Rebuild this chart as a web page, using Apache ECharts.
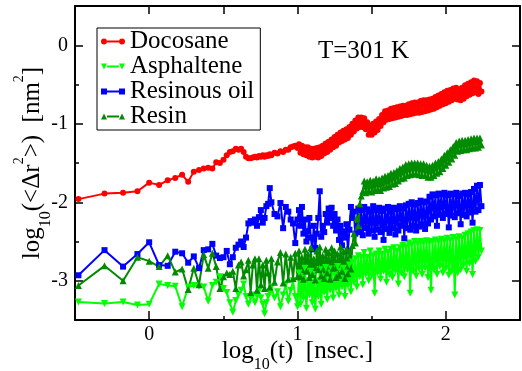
<!DOCTYPE html>
<html><head><meta charset="utf-8">
<script src="https://cdn.jsdelivr.net/npm/echarts@6/dist/echarts.min.js"></script>
<style>html,body{margin:0;padding:0;background:#fff}#c{width:522px;height:371px}</style>
</head><body><div id="c"></div>
<script>
// shared sampling times, log10(t / ns)
const logT = [
-0.477,-0.301,-0.176,-0.079,0,0.067,0.125,0.176,0.222,0.263,
0.301,0.336,0.368,0.398,0.426,0.452,0.477,0.501,0.523,0.544,
0.564,0.584,0.602,0.620,0.637,0.653,0.669,0.684,0.699,0.713,
0.727,0.740,0.753,0.766,0.778,0.790,0.802,0.813,0.824,
0.845,0.865,0.885,0.903,0.921,0.938,0.954,0.970,0.985,1.000,
1.01,1.02,1.03,1.04,1.05,1.06,1.07,1.08,1.09,1.10,
1.11,1.12,1.13,1.14,1.15,1.16,1.17,1.18,1.19,1.20,
1.21,1.22,1.23,1.24,1.25,1.26,1.27,1.28,1.29,1.30,
1.31,1.32,1.33,1.34,1.35,1.36,1.37,1.38,1.39,1.40,
1.41,1.42,1.43,1.44,1.45,1.46,1.47,1.48,1.49,1.50,
1.51,1.52,1.53,1.54,1.55,1.56,1.57,1.58,1.59,1.60,
1.61,1.62,1.63,1.64,1.65,1.66,1.67,1.68,1.69,1.70,
1.71,1.72,1.73,1.74,1.75,1.76,1.77,1.78,1.79,1.80,
1.81,1.82,1.83,1.84,1.85,1.86,1.87,1.88,1.89,1.90,
1.91,1.92,1.93,1.94,1.95,1.96,1.97,1.98,1.99,2.00,
2.01,2.02,2.03,2.04,2.05,2.06,2.07,2.08,2.09,2.10,
2.11,2.12,2.13,2.14,2.15,2.16,2.17,2.18,2.19,2.20,
2.21,2.22,2.23,2.24
];
const docosane = [
-1.96,-1.89,-1.88,-1.86,-1.75,-1.78,-1.72,-1.69,-1.65,-1.74,
-1.61,-1.59,-1.57,-1.56,-1.57,-1.49,-1.50,-1.46,-1.40,-1.36,
-1.35,-1.32,-1.33,-1.32,-1.36,-1.42,-1.44,-1.44,-1.43,-1.42,
-1.43,-1.41,-1.42,-1.40,-1.42,-1.40,-1.41,-1.39,-1.40,
-1.37,-1.38,-1.35,-1.36,-1.33,-1.33,-1.30,-1.29,-1.28,-1.31,
-1.26,-1.37,-1.28,-1.39,-1.30,-1.40,-1.30,-1.42,-1.32,-1.43,
-1.32,-1.42,-1.31,-1.43,-1.30,-1.41,-1.28,-1.38,-1.25,-1.36,
-1.23,-1.33,-1.20,-1.30,-1.17,-1.28,-1.14,-1.24,-1.11,-1.22,
-1.09,-1.20,-1.07,-1.18,-1.04,-1.14,-1.00,-1.10,-0.96,-1.06,
-0.92,-1.04,-0.92,-1.04,-0.93,-1.07,-0.98,-1.14,-1.03,-1.14,
-1.00,-1.11,-0.97,-1.08,-0.94,-1.03,-0.89,-0.98,-0.84,-0.95,
-0.83,-0.94,-0.81,-0.93,-0.80,-0.92,-0.79,-0.91,-0.78,-0.90,
-0.77,-0.89,-0.77,-0.89,-0.75,-0.88,-0.74,-0.87,-0.73,-0.86,
-0.73,-0.86,-0.71,-0.85,-0.70,-0.84,-0.70,-0.83,-0.69,-0.82,
-0.68,-0.81,-0.66,-0.79,-0.64,-0.77,-0.62,-0.75,-0.60,-0.74,
-0.58,-0.72,-0.57,-0.70,-0.55,-0.68,-0.54,-0.69,-0.56,-0.70,
-0.54,-0.68,-0.51,-0.65,-0.49,-0.63,-0.47,-0.61,-0.45,-0.60,
-0.46,-0.62,-0.48,-0.59
];
const asphaltene = [
-3.27,-3.29,-3.27,-3.31,-3.30,-3.04,-3.06,-3.07,-3.33,-3.08,
-3.06,-3.07,-3.08,-3.26,-3.06,-3.02,-2.95,-3.10,-3.15,-3.28,
-3.40,-3.25,-3.18,-3.12,-3.04,-3.20,-3.30,-3.22,-3.18,-3.28,
-3.20,-3.13,-3.22,-3.30,-3.42,-3.28,-3.20,-3.16,-3.08,
-3.22,-3.14,-3.33,-3.18,-3.04,-3.26,-3.12,-3.00,-3.20,-3.33,
-2.90,-3.30,-2.95,-3.22,-2.84,-3.35,-3.00,-3.18,-2.88,-3.28,
-2.92,-3.36,-3.00,-3.20,-2.86,-3.30,-2.95,-3.15,-2.83,-3.24,
-2.90,-3.12,-2.85,-3.22,-2.92,-3.10,-2.82,-3.18,-2.88,-3.08,
-2.84,-3.20,-2.90,-3.06,-2.80,-3.14,-2.76,-3.02,-2.72,-3.08,
-2.68,-2.95,-2.70,-3.05,-2.64,-2.92,-2.70,-3.00,-2.62,-2.94,
-2.68,-3.16,-2.66,-2.90,-2.62,-2.98,-2.66,-2.88,-2.60,-3.02,
-2.64,-2.92,-2.60,-2.96,-2.58,-2.88,-2.62,-3.04,-2.58,-2.90,
-2.55,-2.95,-2.57,-2.86,-2.52,-3.16,-2.54,-2.88,-2.50,-2.94,
-2.53,-2.85,-2.50,-2.92,-2.52,-2.84,-2.49,-2.96,-2.51,-3.12,
-2.50,-2.86,-2.48,-2.92,-2.50,-2.82,-2.47,-2.90,-2.49,-2.84,
-2.46,-2.93,-2.48,-2.88,-2.45,-3.18,-2.47,-2.90,-2.44,-2.86,
-2.46,-2.80,-2.42,-2.88,-2.40,-2.78,-2.38,-2.92,-2.36,-2.75,
-2.35,-2.70,-2.36,-2.62
];
const resinousOil = [
-2.93,-2.61,-2.82,-2.66,-2.51,-2.80,-2.81,-2.63,-2.65,-2.77,
-2.69,-2.84,-2.61,-2.60,-2.53,-2.68,-2.71,-2.70,-2.62,-2.79,
-2.70,-2.58,-2.54,-2.50,-2.57,-2.45,-2.27,-2.24,-2.26,-2.22,
-2.30,-2.19,-2.10,-2.26,-2.20,-2.05,-2.02,-1.82,-2.00,
-2.15,-2.18,-2.01,-2.33,-2.06,-2.12,-2.22,-2.27,-2.52,-2.22,
-2.10,-2.30,-2.06,-2.40,-2.22,-2.50,-2.37,-2.20,-2.45,-2.60,
-2.30,-2.58,-2.40,-2.20,-1.86,-2.44,-2.30,-2.38,-2.15,-2.26,
-2.08,-2.20,-2.07,-2.30,-2.15,-2.36,-2.22,-2.48,-2.30,-2.55,
-2.37,-2.45,-2.28,-2.62,-2.35,-2.06,-2.20,-2.12,-2.40,-2.30,
-2.08,-2.38,-2.10,-2.42,-2.06,-2.33,-2.09,-2.40,-2.12,-2.36,
-2.05,-2.44,-2.10,-2.35,-2.07,-2.38,-2.11,-2.48,-2.08,-2.34,
-2.06,-2.39,-2.12,-2.33,-2.07,-2.41,-2.09,-2.36,-2.05,-2.30,
-2.08,-2.46,-2.04,-2.33,-2.02,-2.35,-2.00,-2.30,-2.03,-2.36,
-2.01,-2.31,-1.98,-2.28,-2.00,-2.34,-1.99,-2.27,-1.93,-2.22,
-1.90,-2.18,-1.91,-2.30,-1.89,-2.16,-1.90,-2.20,-1.88,-2.15,
-1.91,-2.32,-1.89,-2.17,-1.90,-2.19,-1.88,-2.14,-1.92,-2.28,
-1.89,-2.16,-1.88,-2.18,-1.90,-2.13,-1.87,-2.26,-1.83,-2.12,
-1.79,-2.10,-1.78,-2.05
];
const resin = [
-3.06,-2.81,-3.00,-2.70,-2.75,-2.82,-2.68,-2.89,-2.85,-3.11,
-2.84,-3.05,-2.67,-2.84,-2.65,-2.82,-3.10,-2.95,-2.90,-2.92,
-2.88,-3.10,-2.80,-2.76,-2.94,-2.86,-2.74,-3.15,-2.80,-2.72,
-3.12,-2.72,-3.05,-2.80,-3.10,-2.74,-2.90,-3.08,-2.72,
-3.02,-2.76,-2.64,-3.03,-2.66,-2.98,-2.70,-2.97,-2.65,-2.95,
-2.62,-2.95,-2.70,-2.98,-2.60,-2.88,-2.66,-2.96,-2.58,-2.92,
-2.72,-2.99,-2.62,-2.86,-2.57,-2.94,-2.68,-2.97,-2.60,-2.90,
-2.64,-2.98,-2.58,-2.84,-2.62,-2.96,-2.66,-2.93,-2.57,-2.88,
-2.63,-2.97,-2.60,-2.91,-2.62,-2.85,-2.55,-2.40,-2.52,-2.20,
-2.30,-2.02,-1.92,-1.86,-1.73,-1.88,-1.74,-1.86,-1.72,-1.87,
-1.73,-1.85,-1.70,-1.84,-1.71,-1.85,-1.69,-1.82,-1.67,-1.81,
-1.66,-1.80,-1.63,-1.77,-1.62,-1.76,-1.60,-1.73,-1.57,-1.70,
-1.55,-1.69,-1.52,-1.66,-1.51,-1.65,-1.50,-1.64,-1.50,-1.64,
-1.50,-1.65,-1.51,-1.66,-1.51,-1.66,-1.53,-1.68,-1.54,-1.68,
-1.53,-1.66,-1.50,-1.63,-1.48,-1.61,-1.45,-1.57,-1.40,-1.53,
-1.37,-1.49,-1.33,-1.45,-1.29,-1.40,-1.24,-1.35,-1.22,-1.34,
-1.21,-1.33,-1.21,-1.33,-1.20,-1.32,-1.19,-1.31,-1.18,-1.31,
-1.18,-1.30,-1.18,-1.27
];
const seriesNames = ['Docosane', 'Asphaltene', 'Resinous oil', 'Resin'];
const xMajorTicks = [0, 1, 2];
const xMinorTicks = [0.5, 1.5];
const yMajorTicks = [0, -1, -2, -3];
const yMinorTicks = [-0.5, -1.5, -2.5];

const FONT = 'Liberation Serif';
const chart = echarts.init(document.getElementById('c'), null, {renderer: 'canvas'});

function pairs(vals) { return vals.map((v, i) => [logT[i], v]); }

const nameRich = {
  sub: {fontFamily: FONT, fontSize: 16, lineHeight: 16, padding: [28, 0, 0, 0], color: '#000'},
  sup: {fontFamily: FONT, fontSize: 14, lineHeight: 14, padding: [0, 0, 26, 0], color: '#000'}
};
const nameStyle = {fontFamily: FONT, fontSize: 25, lineHeight: 26, color: '#000', rich: nameRich};

function axis(kind, pos, ticks, len, showLine, opts) {
  const isX = kind === 'x';
  return Object.assign({
    type: 'value',
    position: pos,
    min: isX ? -0.5 : -3.5,
    max: isX ? 2.5 : 0.5,
    axisLine: {show: showLine, onZero: false, lineStyle: {color: '#000', width: 2}},
    axisTick: {show: true, inside: true, length: len, customValues: ticks, lineStyle: {color: '#000', width: 1.5}},
    axisLabel: {show: false},
    splitLine: {show: false},
    minorTick: {show: false},
    silent: true
  }, opts || {});
}

const labelStyle = {fontFamily: FONT, fontSize: 20, color: '#000'};

const option = {
  animation: false,
  backgroundColor: '#fff',
  grid: {left: 75, right: 2, top: 6, bottom: 51, containLabel: false, outerBoundsMode: 'none'},
  xAxis: [
    axis('x', 'bottom', xMajorTicks, 9, true, {
      axisLabel: Object.assign({show: true, customValues: xMajorTicks, margin: 5}, labelStyle),
      name: 'log{sub|10}(t)  [nsec.]', nameLocation: 'middle', nameGap: 18, nameMoveOverlap: false, nameTextStyle: nameStyle
    }),
    axis('x', 'bottom', xMinorTicks, 4, false),
    axis('x', 'top', xMajorTicks, 8, true),
    axis('x', 'top', xMinorTicks, 8, false)
  ],
  yAxis: [
    axis('y', 'left', yMajorTicks, 8, true, {
      axisLabel: Object.assign({show: true, customValues: yMajorTicks, margin: 7}, labelStyle),
      name: 'log{sub|10}(<Δr{sup|2}>)  [nm{sup|2}]', nameLocation: 'middle', nameRotate: 90, nameGap: 30, nameMoveOverlap: false, nameTextStyle: nameStyle
    }),
    axis('y', 'left', yMinorTicks, 4, false),
    axis('y', 'right', yMajorTicks, 8, true),
    axis('y', 'right', yMinorTicks, 4, false)
  ],
  legend: {
    show: true, orient: 'vertical', left: 97, top: 28,
    padding: [1, 6, 1, 4], itemGap: 0, itemWidth: 24, itemHeight: 8,
    borderColor: '#000', borderWidth: 1, backgroundColor: '#fff',
    selectedMode: false,
    itemStyle: {borderWidth: 0},
    textStyle: {fontFamily: FONT, fontSize: 25, lineHeight: 23, color: '#000'},
    data: [
      {name: seriesNames[0], icon: 'path://M0,4a3,3 0 1,0 6,0a3,3 0 1,0 -6,0ZM18,4a3,3 0 1,0 6,0a3,3 0 1,0 -6,0ZM6,3L18,3L18,5L6,5Z'},
      {name: seriesNames[1], icon: 'path://M0,1L6,1L3,7ZM18,1L24,1L21,7ZM6,3L18,3L18,5L6,5Z'},
      {name: seriesNames[2], icon: 'path://M0,1L6,1L6,7L0,7ZM18,1L24,1L24,7L18,7ZM6,3L18,3L18,5L6,5Z'},
      {name: seriesNames[3], icon: 'path://M0,7L6,7L3,1ZM18,7L24,7L21,1ZM6,3L18,3L18,5L6,5Z'}
    ]
  },
  graphic: [{
    type: 'text', left: 318, top: 39, silent: true,
    style: {text: 'T=301 K', fontFamily: FONT, fontSize: 25, fill: '#000'}
  }],
  series: [
    {name: seriesNames[0], data: pairs(docosane), color: '#ff0000', symbol: 'circle', symbolSize: 6},
    {name: seriesNames[1], data: pairs(asphaltene), color: '#00ff00', symbol: 'triangle', symbolRotate: 180, symbolSize: 7},
    {name: seriesNames[2], data: pairs(resinousOil), color: '#0000ff', symbol: 'rect', symbolSize: 6},
    {name: seriesNames[3], data: pairs(resin), color: '#008b00', symbol: 'triangle', symbolSize: 7}
  ].map(s => Object.assign({
    type: 'line', xAxisIndex: 0, yAxisIndex: 0, showSymbol: true, showAllSymbol: true,
    lineStyle: {width: 2, color: s.color}, itemStyle: {color: s.color},
    emphasis: {disabled: true}, silent: true, clip: true
  }, s))
};
chart.setOption(option);
</script></body></html>
